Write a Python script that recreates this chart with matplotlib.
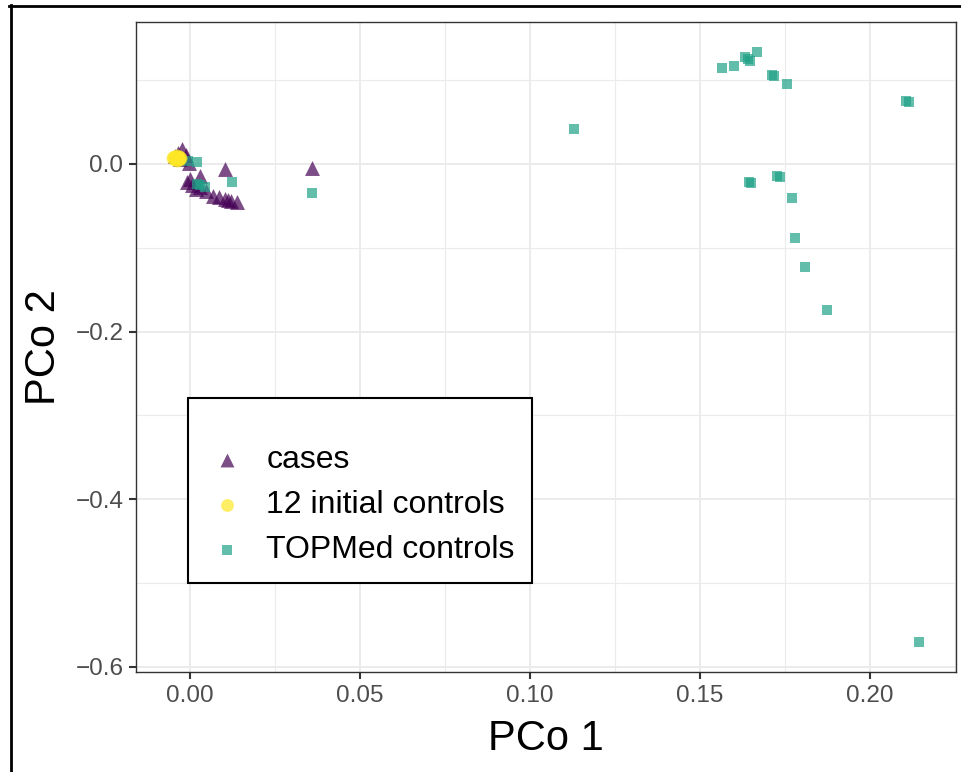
import numpy as np
import matplotlib.pyplot as plt
from matplotlib.lines import Line2D
from matplotlib.ticker import MultipleLocator

plt.rcParams['font.family'] = ['Liberation Sans', 'DejaVu Sans']

# cases (triangles)
cases_x = [-0.0035, -0.0024, -0.0044, -0.0012, -0.0029, -0.0003, 0.0000, -0.0010,
           0.0006, 0.0018, 0.0029, 0.0047, 0.0068, 0.0085, 0.0103, 0.0112, 0.0121,
           0.0137, 0.0029, 0.0101, 0.0357]
cases_y = [0.0130, 0.0178, 0.0095, 0.0107, 0.0059, 0.0012, -0.0178, -0.0222,
           -0.0249, -0.0297, -0.0281, -0.0320, -0.0380, -0.0391, -0.0419, -0.0427, -0.0439,
           -0.0459, -0.0142, -0.0063, -0.0044]

# 12 initial controls (circles)
init_x = [-0.0050, -0.0047, -0.0045, -0.0043, -0.0042, -0.0040,
          -0.0039, -0.0037, -0.0036, -0.0034, -0.0033, -0.0031]
init_y = [0.0075, 0.0085, 0.0060, 0.0080, 0.0068, 0.0088,
          0.0052, 0.0072, 0.0064, 0.0082, 0.0058, 0.0070]

# TOPMed controls (squares)
top_x = [0.0020, -0.0006, 0.0020, 0.0029, 0.0044, 0.0123, 0.0359, 0.1129,
         0.1564, 0.1601, 0.1634, 0.1642, 0.1647, 0.1667, 0.1711, 0.1718, 0.1755,
         0.2106, 0.2114, 0.1645, 0.1651, 0.1728, 0.1735, 0.1772, 0.1779, 0.1809,
         0.1875, 0.2144]
top_y = [0.0024, 0.0036, -0.0241, -0.0249, -0.0281, -0.0219, -0.0348, 0.0412,
         0.1143, 0.1167, 0.1273, 0.1253, 0.1230, 0.1340, 0.1056, 0.1047, 0.0957,
         0.0755, 0.0735, -0.0221, -0.0233, -0.0142, -0.0162, -0.0405, -0.0886, -0.1234,
         -0.1744, -0.5710]

col_cases = '#440154'
col_init = '#FDE725'
col_top = '#1FA187'

fig = plt.figure(figsize=(9.61, 7.72), dpi=100)
ax = fig.add_axes([0.1415, 0.1295, 0.8533, 0.842])

ax.scatter(cases_x, cases_y, marker='^', s=115, color=col_cases, alpha=0.7,
           linewidths=0, label='cases', zorder=3)
ax.scatter(top_x, top_y, marker='s', s=62, color=col_top, alpha=0.7,
           linewidths=0, label='TOPMed controls', zorder=4)
ax.scatter(init_x, init_y, marker='o', s=100, color=col_init, alpha=0.7,
           linewidths=0, label='12 initial controls', zorder=5)

# ggplot-style 5% expansion
xs = np.concatenate([cases_x, init_x, top_x])
ys = np.concatenate([cases_y, init_y, top_y])
dx = (xs.max() - xs.min()) * 0.05
dy = (ys.max() - ys.min()) * 0.05
ax.set_xlim(xs.min() - dx, xs.max() + dx)
ax.set_ylim(ys.min() - dy, ys.max() + dy)

ax.xaxis.set_minor_locator(MultipleLocator(0.025))
ax.yaxis.set_minor_locator(MultipleLocator(0.1))
ax.set_xticks([0.0, 0.05, 0.10, 0.15, 0.20])
ax.set_xticklabels(['0.00', '0.05', '0.10', '0.15', '0.20'])
ax.set_yticks([0.0, -0.2, -0.4, -0.6])
ax.set_yticklabels(['0.0', '\u22120.2', '\u22120.4', '\u22120.6'])

ax.grid(True, which='major', color='#EBEBEB', linewidth=1.4, zorder=0)
ax.grid(True, which='minor', color='#EBEBEB', linewidth=0.8, zorder=0)
ax.set_axisbelow(True)
ax.tick_params(which='major', length=5, width=1.5, color='#333333',
               labelsize=17.5, labelcolor='#4D4D4D', pad=4)
ax.tick_params(which='minor', length=0)
for sp in ax.spines.values():
    sp.set_color('#333333')
    sp.set_linewidth(1.0)

ax.set_xlabel('PCo 1', fontsize=30, labelpad=9)
ax.set_ylabel('PCo 2', fontsize=30, labelpad=8)

handles, labels = ax.get_legend_handles_labels()
order = [0, 2, 1]
leg = ax.legend([handles[i] for i in order], [labels[i] for i in order],
                loc='lower left', bbox_to_anchor=(0.0634, 0.1369), borderaxespad=0,
                fontsize=23, title=' ', title_fontsize=12, fancybox=False,
                framealpha=1, edgecolor='black', borderpad=0.55, handlelength=1.35,
                handletextpad=0.55, labelspacing=0.47, scatterpoints=1)
leg.get_frame().set_linewidth(1.5)
for h, sz in zip(leg.legend_handles, [100, 85, 55]):
    h.set_sizes([sz])

# outer frame
fig.add_artist(Line2D([0.0098, 1.0], [0.9922, 0.9922], color='black', linewidth=2))
fig.add_artist(Line2D([0.0110, 0.0110], [0.0, 0.9935], color='black', linewidth=2))

fig.savefig('out.png', dpi=100)
